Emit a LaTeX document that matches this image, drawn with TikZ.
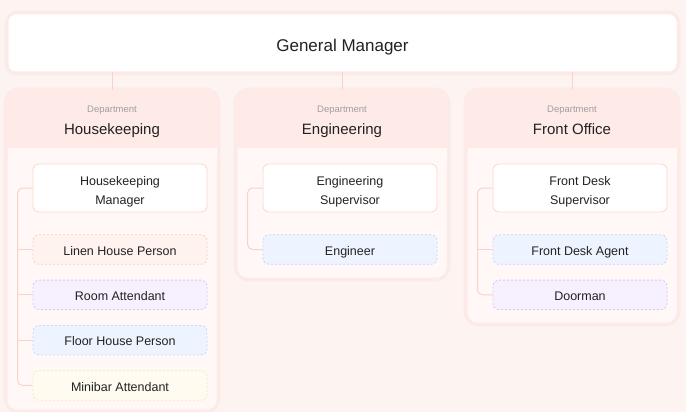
\documentclass[tikz,border=0pt]{standalone}
\usepackage{fontspec}
\setmainfont{Liberation Sans}
\usepackage{tikz}
\usetikzlibrary{positioning}
\definecolor{bgpink}{RGB}{253,243,241}
\definecolor{glowpink}{RGB}{248,222,216}
\definecolor{headpink}{RGB}{254,234,231}
\definecolor{bodypink}{RGB}{255,248,247}
\definecolor{edgepink}{RGB}{251,214,205}
\definecolor{linkpink}{RGB}{250,210,200}
\definecolor{txt}{RGB}{34,34,34}
\definecolor{dept}{RGB}{160,160,160}
\definecolor{salfill}{RGB}{255,243,240}
\definecolor{saledge}{RGB}{252,204,192}
\definecolor{lavfill}{RGB}{247,240,255}
\definecolor{lavedge}{RGB}{218,198,250}
\definecolor{bluefill}{RGB}{238,244,255}
\definecolor{blueedge}{RGB}{196,214,250}
\definecolor{yelfill}{RGB}{255,251,240}
\definecolor{yeledge}{RGB}{252,232,184}
\tikzset{card/.style = {draw=headpink, line width=1pt, rounded corners=10pt,
                        minimum width=210pt, inner sep=0pt}}
\tikzset{lead/.style = {draw=edgepink, fill=white, line width=0.8pt, rounded corners=6pt,
                        minimum width=174pt, minimum height=48pt, inner sep=0pt,
                        text height=33pt, text depth=0pt,
                        align=center, font=\fontsize{12.5}{19.5}\selectfont, text=txt}}
\tikzset{staff/.style = {dashed, dash pattern=on 2pt off 2pt, line width=0.8pt, rounded corners=6pt,
                         minimum width=174pt, minimum height=29.5pt, inner sep=0pt,
                         text height=11.6pt, text depth=0pt,
                         font=\fontsize{12.5}{15}\selectfont, text=txt}}
\tikzset{sal/.style = {staff, draw=saledge, fill=salfill},
         lav/.style = {staff, draw=lavedge, fill=lavfill},
         blu/.style = {staff, draw=blueedge, fill=bluefill},
         yel/.style = {staff, draw=yeledge, fill=yelfill}}
\tikzset{tree/.style = {draw=linkpink, line width=1pt, rounded corners=5pt},
         link/.style = {draw=linkpink, line width=1pt}}
\tikzset{depttag/.style = {anchor=base, font=\fontsize{9.5}{11}\selectfont, text=dept},
         deptname/.style = {anchor=base, font=\fontsize{15}{18}\selectfont, text=txt}}

\begin{document}
\begin{tikzpicture}[x=1pt, y=-1pt]
    \fill [bgpink] (0, 0) rectangle (686, 412);
    \useasboundingbox (0, 0) rectangle (686, 412);

    % soft glow round the boxes
    \draw [glowpink, opacity=0.35, line width=7pt, rounded corners=10pt] (8, 14) rectangle (677, 72);
    \foreach \cx/\h in {112/319, 342/187, 572/232}
        \draw [glowpink, opacity=0.35, line width=7pt, rounded corners=12pt] (\cx - 105, 91) rectangle (\cx + 105, 91 + \h);

    % departments
    \foreach \name/\cx/\h in {hk/112/319, eng/342/187, fo/572/232} {
        \node [card, minimum height=\h pt, fill=headpink] (\name) at (\cx, 91 + \h/2) {};
        \fill [bodypink, rounded corners=10pt] (\cx - 104.5, 148) rectangle (\cx + 104.5, 90.5 + \h);
        \fill [bodypink] (\cx - 104.5, 148) rectangle (\cx + 104.5, 165);
        \draw [headpink, line width=1pt, rounded corners=10pt] (\name.north west) rectangle (\name.south east);
    }

    \node [depttag] at (112, 113) {Department};
    \node [deptname] at (112, 135) {Housekeeping};
    \node [depttag] at (342, 113) {Department};
    \node [deptname] at (342, 135) {Engineering};
    \node [depttag] at (572, 113) {Department};
    \node [deptname] at (572, 135) {Front Office};

    \node [draw=headpink, fill=white, line width=1pt, rounded corners=8pt,
           minimum width=669pt, minimum height=58pt, text=txt,
           text height=17pt, text depth=0pt,
           font=\fontsize{17}{20}\selectfont] (gm) at (342.5, 43) {General Manager};

    \draw [link] (gm.south -| hk.north) -- (hk.north);
    \draw [link] (gm.south -| eng.north) -- (eng.north);
    \draw [link] (gm.south -| fo.north) -- (fo.north);

    % housekeeping
    \node [lead] (hkm) at (120, 188) {Housekeeping\\Manager};
    \node [sal, below=22pt of hkm] (linen) {Linen House Person};
    \node [lav, below=15pt of linen] (room) {Room Attendant};
    \node [blu, below=15pt of room] (floor) {Floor House Person};
    \node [yel, below=15pt of floor] (mini) {Minibar Attendant};

    \draw [tree] (hkm.west) -| ([xshift=-15pt]mini.west) -- (mini.west);
    \draw [link] (linen.west) -- +(-15, 0);
    \draw [link] (room.west) -- +(-15, 0);
    \draw [link] (floor.west) -- +(-15, 0);

    % engineering
    \node [lead] (engsup) at (350, 188) {Engineering\\Supervisor};
    \node [blu, below=22pt of engsup] (engr) {Engineer};

    \draw [tree] (engsup.west) -| ([xshift=-15pt]engr.west) -- (engr.west);

    % front office
    \node [lead] (fds) at (580, 188) {Front Desk\\Supervisor};
    \node [blu, below=22pt of fds] (fda) {Front Desk Agent};
    \node [lav, below=15pt of fda] (door) {Doorman};

    \draw [tree] (fds.west) -| ([xshift=-15pt]door.west) -- (door.west);
    \draw [link] (fda.west) -- +(-15, 0);
\end{tikzpicture}
\end{document}
